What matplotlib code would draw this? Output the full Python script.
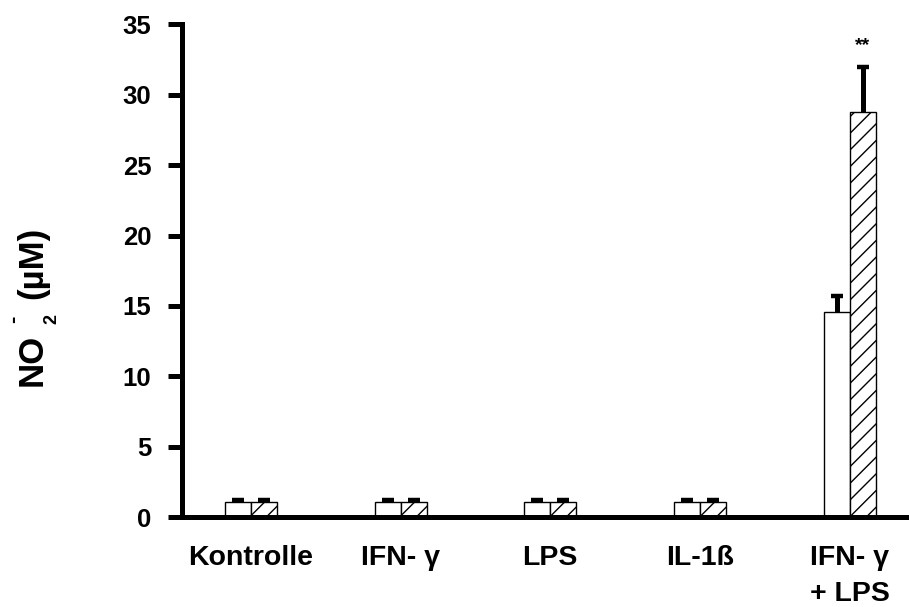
import matplotlib
matplotlib.use('Agg')
import matplotlib.pyplot as plt
import numpy as np

plt.rcParams['font.family'] = ['Liberation Sans', 'DejaVu Sans']
plt.rcParams['font.weight'] = 'bold'
plt.rcParams['hatch.linewidth'] = 1.0

# NO2- release per treatment: untreated (white) vs treated (hatched)
groups = ['Kontrolle', 'IFN- γ', 'LPS', 'IL-1ß', 'IFN- γ\n+ LPS']
white_vals = [1.1, 1.1, 1.1, 1.1, 14.6]
white_err = [0.15, 0.15, 0.15, 0.15, 1.1]
hatch_vals = [1.1, 1.1, 1.1, 1.1, 28.8]
hatch_err = [0.15, 0.15, 0.15, 0.15, 3.2]
sig_marks = ['', '', '', '', '**']

W, H = 909, 607
fig = plt.figure(figsize=(W / 100, H / 100), dpi=100)
ax = fig.add_axes([0.2002, 0.148, 0.797, 0.812])

x = np.arange(len(groups))
w = 0.174

ax.bar(x - w / 2, white_vals, w, color='white', edgecolor='black', linewidth=1.0, zorder=2)
ax.bar(x + w / 2, hatch_vals, w, color='white', edgecolor='black', linewidth=1.0,
       hatch='//', zorder=2)

# upward-only error bars, cap only at the top end
for xs, vals, errs in [(x - w / 2, white_vals, white_err), (x + w / 2, hatch_vals, hatch_err)]:
    _, caps, _ = ax.errorbar(xs, vals, yerr=[np.zeros(len(x)), errs], fmt='none',
                             ecolor='black', elinewidth=3.6, capsize=4.5, capthick=3.2,
                             zorder=3)
    caps[0].set_visible(False)

for xi, v, e, s in zip(x, hatch_vals, hatch_err, sig_marks):
    if s:
        ax.text(xi + w / 2, v + e + 0.9, s, ha='center', va='bottom',
                fontsize=14, fontweight='bold')

ax.set_xlim(-0.461, 4.38)
ax.set_ylim(0, 35)
ax.set_yticks(range(0, 36, 5))
ax.set_xticks(x)
ax.set_xticklabels(groups, fontsize=20.5, fontweight='bold', linespacing=1.5)
ax.tick_params(axis='y', labelsize=18.5, width=3.6, length=10, direction='out', pad=12)
ax.tick_params(axis='x', length=0, pad=20)

for side in ['top', 'right']:
    ax.spines[side].set_visible(False)
ax.spines['left'].set_linewidth(3.6)
ax.spines['bottom'].set_linewidth(3.6)


# y-axis title built from pieces: NO, raised minus, lowered 2, (µM)
def label_piece(s, px, py, size):
    fig.text(px / W, 1 - py / H, s, rotation=90, rotation_mode='anchor',
             ha='left', va='baseline', fontsize=size, fontweight='bold')


label_piece('NO', 42, 386, 25)
label_piece('-', 19, 323, 16)
label_piece('2', 56, 324, 13)
label_piece('(µM)', 42, 299, 25)

fig.savefig('out.png', dpi=100)
